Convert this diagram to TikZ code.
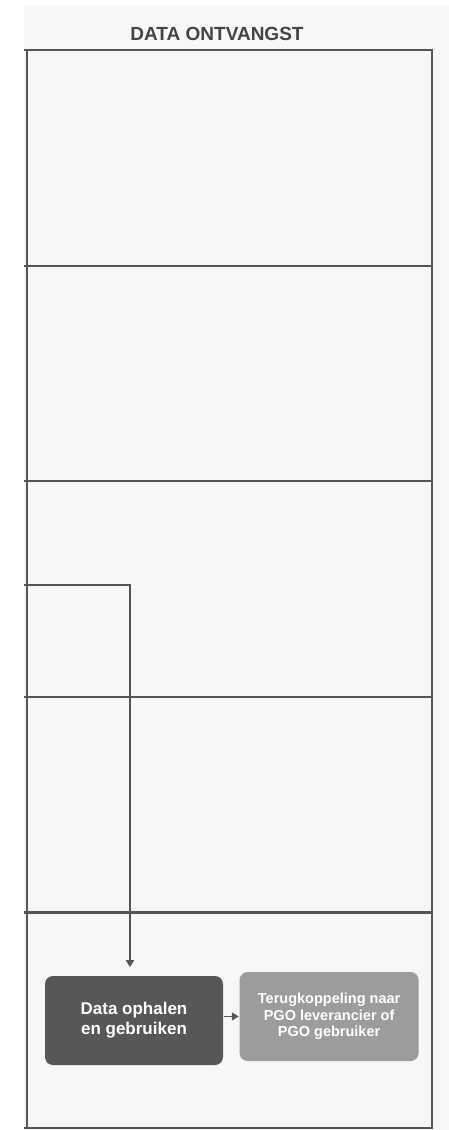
\documentclass[tikz,border=0pt]{standalone}
\usepackage{fontspec}
\setmainfont{Liberation Sans}
\usetikzlibrary{positioning, arrows.meta}
\definecolor{pagebg}{HTML}{F7F7F7}
\definecolor{lineg}{HTML}{555555}
\definecolor{titleg}{HTML}{444444}
\definecolor{darkg}{HTML}{575757}
\definecolor{lightg}{HTML}{9C9C9C}

\begin{document}
\begin{tikzpicture}[x=1pt, y=-1pt, ->, >={Triangle[length=7pt, width=8pt]},
    line width=1.6pt, draw=lineg, color=lineg,
    lane/.style={draw=lineg, line width=2.2pt, minimum width=405pt,
      minimum height=215.6pt, inner sep=0pt, outer sep=0pt},
    stepbox/.style={rounded corners=8pt, inner sep=0pt, align=center,
      font=\bfseries, text=white, minimum height=89pt}]
      \useasboundingbox (0,0) rectangle (449,1130);
      \fill[pagebg] (24,6) rectangle (449,1130);

      \node[font=\bfseries\fontsize{19}{21}\selectfont, text=titleg] (title) at (217,34) {DATA ONTVANGST};

      % swimlanes
      \node[lane, anchor=north west] (l1) at (27,50) {};
      \node[lane, below=0pt of l1] (l2) {};
      \node[lane, below=0pt of l2] (l3) {};
      \node[lane, below=0pt of l3] (l4) {};
      \node[lane, below=0pt of l4] (l5) {};
      \foreach \n in {l1,l2,l3,l4,l5} {
        \draw[-, line width=2.2pt] (\n.north west) -- ++(-3,0);
      }
      \draw[-, line width=2.2pt] (l5.south west) -- ++(-3,0);

      \coordinate (entry) at (24,585);

      \node[stepbox, fill=darkg, minimum width=178pt,
        font=\bfseries\fontsize{17}{20}\selectfont] (fetch) at (134,1020.5) {Data ophalen\\en gebruiken};
      \node[stepbox, fill=lightg, minimum width=179pt, right=15pt of fetch, yshift=4pt,
        font=\bfseries\fontsize{14.5}{16.5}\selectfont] (feedback) {Terugkoppeling naar\\PGO leverancier of\\PGO gebruiker};

      \draw[shorten >=8pt] (entry) -| ([xshift=-4pt]fetch.north);
      \draw (fetch.east |- feedback.west) -- (feedback.west);
    \end{tikzpicture}
\end{document}
